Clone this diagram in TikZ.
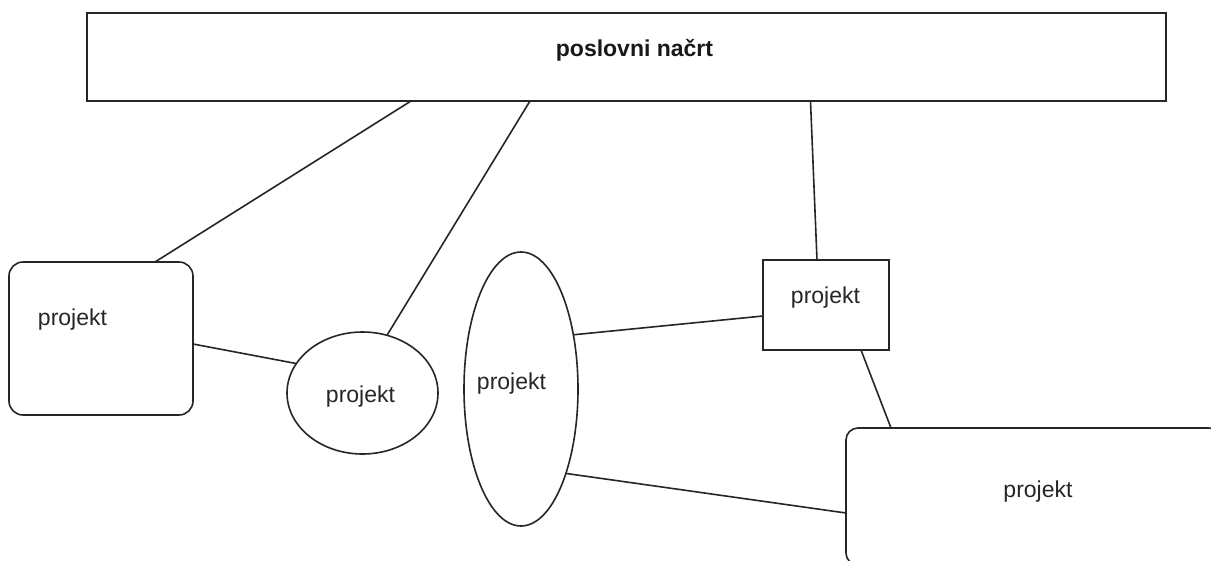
\documentclass[tikz,border=0pt]{standalone}
\usepackage{fontspec}
\setmainfont{Liberation Sans}
\usetikzlibrary{shapes.geometric,calc}

\tikzset{
  shapeline/.style={draw=black!85, line width=1.6pt, inner sep=0pt, outer sep=0pt},
  plainbox/.style={shapeline, rectangle},
  roundbox/.style={shapeline, rectangle, rounded corners=14pt},
  ellbox/.style={shapeline, ellipse},
  label text/.style={font=\fontsize{23pt}{27pt}\selectfont, text=black!85, anchor=base, inner sep=0pt},
  title text/.style={font=\fontsize{23pt}{27pt}\selectfont\bfseries, text=black!90, anchor=base, inner sep=0pt},
  link/.style={draw=black!85, line width=1.6pt}
}

\begin{document}
\begin{tikzpicture}[x=1pt, y=-1pt]
  \useasboundingbox (0,0) rectangle (1211,560);
  \clip (0,0) rectangle (1211,560);
  \fill[white] (0,0) rectangle (1211,560);

  % shapes
  \node[plainbox, minimum width=1079pt, minimum height=88pt] (top) at (626.5,57) {};
  \node[roundbox, minimum width=184pt, minimum height=153pt] (left) at (101,338.5) {};
  \node[ellbox, minimum width=151pt, minimum height=122pt] (ellA) at (362.5,393) {};
  \node[ellbox, minimum width=114pt, minimum height=274pt] (ellB) at (521,389) {};
  \node[plainbox, minimum width=126pt, minimum height=90pt] (sq) at (826,305) {};
  \node[roundbox, rounded corners=12pt, minimum width=375pt, minimum height=137pt] (big) at (1033.5,496.5) {};

  % texts
  \node[title text] (ttitle) at (634.5,56) {poslovni načrt};
  \node[label text] (tleft) at (72.5,325.5) {projekt};
  \node[label text] (tellA) at (360.5,402) {projekt};
  \node[label text] (tellB) at (511.5,389) {projekt};
  \node[label text] (tsq) at (825.5,303) {projekt};
  \node[label text] (tbig) at (1038,497) {projekt};

  % connectors
  \draw[link] ([xshift=-215.5pt]top.south) -- ([xshift=54pt]left.north);
  \draw[link] ([xshift=-96.5pt]top.south) -- (ellA.67.8);
  \draw[link] ([xshift=184pt]top.south) -- ([xshift=-9pt]sq.north);
  \draw[link] ([yshift=-5.5pt]left.east) -- (ellA.156.7);
  \draw[link] (ellB.46.6) -- ([yshift=-11pt]sq.west);
  \draw[link] ([xshift=35pt]sq.south) -- ([xshift=-142.5pt]big.north);
  \draw[link] (ellB.-62.1) -- ([yshift=-16.5pt]big.west);
\end{tikzpicture}
\end{document}
